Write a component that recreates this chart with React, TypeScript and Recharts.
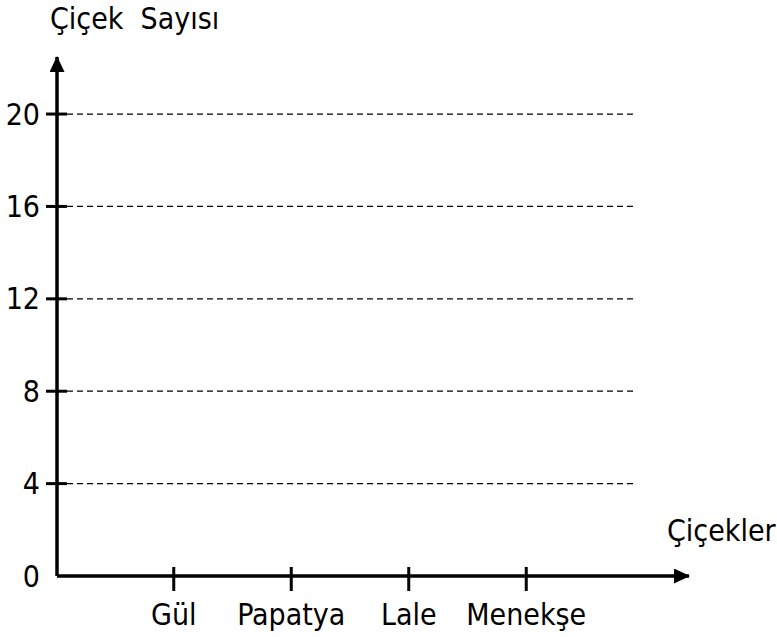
import { BarChart, Bar, XAxis, YAxis, CartesianGrid, Label } from 'recharts';

// categories on the x axis
const flowers = ['Gül', 'Papatya', 'Lale', 'Menekşe'];
// counts are blank in the worksheet
const counts: (number | null)[] = [null, null, null, null];
const yTicks = [0, 4, 8, 12, 16, 20];
const yDomain = [0, 22.47];

const data = flowers.map((name, i) => ({ name, count: counts[i] }));

const FONT = "'DejaVu Sans Condensed', 'DejaVu Sans', sans-serif";
const FS = 30;

const YTick = ({ x, y, payload }: any) => (
  <g>
    {payload.value !== 0 && (
      <line x1={x + 6} x2={x + 27} y1={y} y2={y} stroke="#000" strokeWidth={3} />
    )}
    <text x={x} y={y} textAnchor="end" dominantBaseline="central" fontFamily={FONT} fontSize={FS} fill="#000">
      {payload.value}
    </text>
  </g>
);

const XTick = ({ x, y, payload }: any) => (
  <g>
    <line x1={x} x2={x} y1={y - 9} y2={y + 15} stroke="#000" strokeWidth={3} />
    <text x={x} y={y + 38} textAnchor="middle" dominantBaseline="central" fontFamily={FONT} fontSize={FS} fill="#000">
      {payload.value}
    </text>
  </g>
);

const GridLine = (props: any) => {
  // no dashed line on the axis itself or at the top edge
  if (Math.abs(props.y1 - props.y) < 2 || Math.abs(props.y1 - (props.y + props.height)) < 2) return <g key={props.key} />;
  return (
    <line
      key={props.key}
      x1={props.x1}
      x2={props.x1 + 579}
      y1={props.y1}
      y2={props.y2}
      stroke="#000"
      strokeWidth={1.2}
      strokeDasharray="6 4"
    />
  );
};

export default function App() {
  return (
    <div style={{ position: 'absolute', left: 0, top: 0, background: '#fff' }}>
      <svg width={0} height={0} style={{ position: 'absolute' }}>
        <defs>
          <marker
            id="arrow"
            viewBox="0 0 16 15"
            refX={15}
            refY={7.5}
            markerWidth={16}
            markerHeight={15}
            markerUnits="userSpaceOnUse"
            orient="auto-start-reverse"
          >
            <path d="M0,0 L16,7.5 L0,15 z" fill="#000" />
          </marker>
        </defs>
      </svg>
      <BarChart width={777} height={637} data={data} margin={{ top: 57, right: 88, bottom: 0, left: 0 }}>
        <CartesianGrid vertical={false} horizontal={GridLine} />
        <XAxis
          dataKey="name"
          height={61}
          padding={{ left: 58, right: 104 }}
          tickLine={false}
          tickSize={0}
          tickMargin={0}
          tick={<XTick />}
          interval={0}
          axisLine={{ stroke: '#000', strokeWidth: 3.5, markerEnd: 'url(#arrow)' }}
        >
          <Label
            content={({ viewBox }: any) => (
              <text
                x={viewBox.x + viewBox.width - 22}
                y={viewBox.y - 46}
                dominantBaseline="central"
                fontFamily={FONT}
                fontSize={FS}
                fill="#000"
              >
                Çiçekler
              </text>
            )}
          />
        </XAxis>
        <YAxis
          type="number"
          width={57}
          domain={yDomain}
          ticks={yTicks}
          allowDataOverflow
          tickLine={false}
          tickSize={0}
          tickMargin={17}
          tick={<YTick />}
          axisLine={{ stroke: '#000', strokeWidth: 3.5, markerStart: 'url(#arrow)' }}
        >
          <Label
            content={({ viewBox }: any) => (
              <text
                x={viewBox.x + 50}
                y={viewBox.y - 39}
                dominantBaseline="central"
                fontFamily={FONT}
                fontSize={FS}
                fill="#000"
                style={{ whiteSpace: 'pre' }}
              >
                {'Çiçek  Sayısı'}
              </text>
            )}
          />
        </YAxis>
        <Bar dataKey="count" fill="#000" isAnimationActive={false} />
      </BarChart>
    </div>
  );
}
